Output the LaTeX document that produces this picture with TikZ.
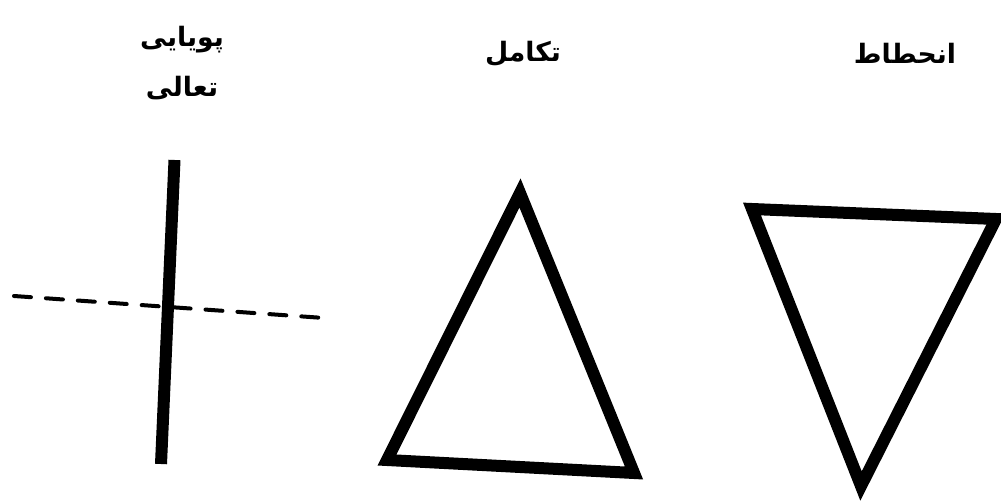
\documentclass[tikz,border=0pt]{standalone}
\usepackage{fontspec}
\newfontfamily\arabicfont[Script=Arabic]{DejaVu Sans}
\TeXXeTstate=1

\begin{document}
\begin{tikzpicture}[
    x=0.025cm, y=-0.025cm,
    every node/.style={font=\arabicfont\bfseries\fontsize{19}{30}\selectfont},
    axis/.style={line width=12*0.025cm, line cap=butt},
    level/.style={line width=4*0.025cm, dash pattern=on 17*0.025cm off 15*0.025cm, line cap=round},
    tri/.style={line width=12*0.025cm, line join=miter}
]

% ── CANVAS ──────────────────────────────────────────────
\useasboundingbox (0,0) rectangle (1001,504);
\clip (0,0) rectangle (1001,504);

% === LABELS ===
\node (dyn)  at (182,40) {\beginR پویایی\endR};
\node (tran) at (182,88) {\beginR تعالی\endR};
\node (evo)  at (523,54) {\beginR تکامل\endR};
\node (dec)  at (905,53) {\beginR انحطاط\endR};

% === LEFT: axis and dashed level ===
\coordinate (axtop) at (174.5,160);
\coordinate (axbot) at (161,464);
\coordinate (lvlA)  at (14,296);
\coordinate (lvlB)  at (324,318);
\draw[level] (lvlA) -- (lvlB);
\draw[axis]  (axtop) -- (axbot);

% === MIDDLE: rising triangle ===
\coordinate (upA) at (520,193);
\coordinate (upB) at (387,460);
\coordinate (upC) at (634,473);
\draw[tri] (upA) -- (upB) -- (upC) -- cycle;

% === RIGHT: falling triangle ===
\coordinate (dnA) at (752,209);
\coordinate (dnB) at (996,219);
\coordinate (dnC) at (861,486);
\draw[tri] (dnA) -- (dnB) -- (dnC) -- cycle;

\end{tikzpicture}
\end{document}
